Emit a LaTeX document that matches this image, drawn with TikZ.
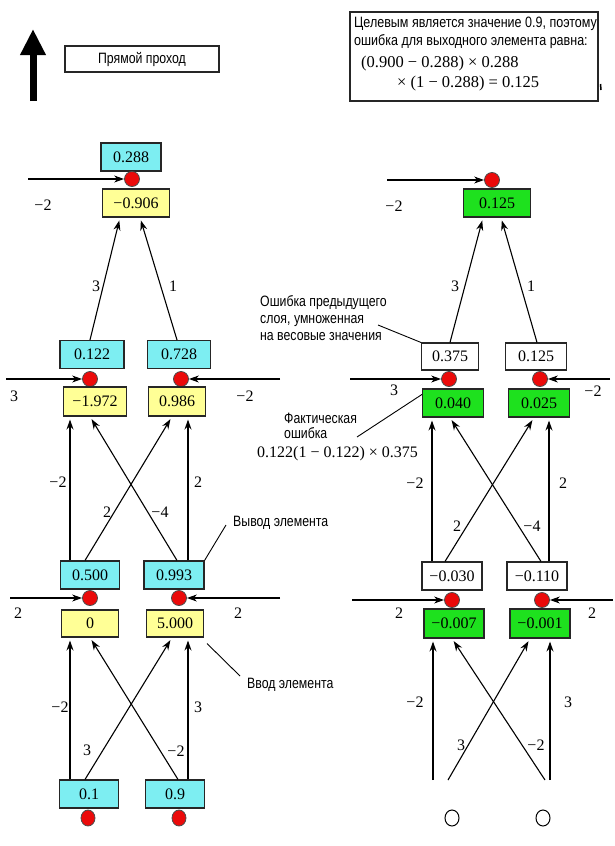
\documentclass[tikz,border=0pt]{standalone}
\usepackage{fontspec}
\setmainfont{Liberation Serif}
\newfontfamily\rusans[FakeStretch=0.82]{Liberation Sans}
\newfontfamily\rusansw[FakeStretch=0.835]{Liberation Sans}
\usetikzlibrary{arrows.meta,calc,shapes.geometric}
\definecolor{cy}{RGB}{125,238,242}
\definecolor{ye}{RGB}{255,255,150}
\definecolor{gr}{RGB}{30,225,30}
\definecolor{rd}{RGB}{235,10,10}
\tikzset{
 box/.style={draw=black!85, line width=1.1pt, minimum height=28pt, inner sep=0pt, font=\fontsize{16}{18}\selectfont},
 cbox/.style={box, fill=cy},
 ybox/.style={box, fill=ye},
 gbox/.style={box, fill=gr},
 wbox/.style={box, fill=white},
 dot/.style={circle, draw=black!70, fill=rd, line width=0.8pt, minimum size=15pt, inner sep=0pt},
 idot/.style={ellipse, draw=black!70, fill=rd, line width=0.8pt, minimum width=14pt, minimum height=16pt, inner sep=0pt},
 odot/.style={ellipse, draw=black, line width=1pt, minimum width=14pt, minimum height=16pt, inner sep=0pt},
 edgearr/.style={line width=1.1pt, -{Stealth[length=10pt,width=7pt]}, shorten >=3pt},
 harr/.style={line width=1.1pt, -{Stealth[length=10pt,width=7pt]}},
 lead/.style={line width=0.9pt},
 wt/.style={font=\fontsize{16}{18}\selectfont, inner sep=0pt},
 ru/.style={font=\rusans\fontsize{15}{17}\selectfont, inner sep=0pt, anchor=west},
 ruw/.style={font=\rusansw\fontsize{15}{17}\selectfont, inner sep=0pt, anchor=west},
 frm/.style={font=\fontsize{16.5}{18}\selectfont, inner sep=0pt, anchor=west},
 frms/.style={font=\fontsize{16}{18}\selectfont, inner sep=0pt, anchor=west}
}
\begin{document}
\begin{tikzpicture}[x=1pt,y=-1pt]
\useasboundingbox (0,0) rectangle (615,846);

% ---- top: arrow, title box, info box
\coordinate (upb) at (33,101);
\coordinate (upt) at (33,29);
\draw[line width=7pt,-{Triangle[length=26pt,width=24pt]}] (upb) -- (upt);
\node[draw=black!85, line width=1.1pt, minimum width=154pt, minimum height=26pt, inner sep=0pt,
      font=\rusans\fontsize{15}{17}\selectfont] (title) at (142,59) {Прямой проход};
\node[draw=black!85, line width=1.1pt, minimum width=248pt, minimum height=89pt, inner sep=0pt] (info) at (474,56.5) {};
\node[ruw] (inf1) at (354,24) {Целевым является значение 0.9, поэтому};
\node[ruw] (inf2) at (354,42) {ошибка для выходного элемента равна:};
\node[frm] (inf3) at (361,64) {(0.900 − 0.288) × 0.288};
\node[frm] (inf4) at (397,84) {× (1 − 0.288) = 0.125};
\coordinate (tk1) at (600.5,84);
\coordinate (tk2) at (601,90);
\draw[line width=1.5pt] (tk1) -- (tk2);

% ================= LEFT NETWORK =================
\node[cbox, minimum width=60pt] (Lout) at (131,157) {0.288};
\node[dot] (Lc) at (132,179) {};
\coordinate (Lca) at (28,179);
\draw[harr] (Lca) -- (Lc);
\node[ybox, minimum width=67pt] (Lo) at (136,203) {−0.906};
\node[wt] (Lw0) at (43,205) {−2};

% hidden layer
\node[cbox, minimum width=64pt] (Lh1o) at (92,354.5) {0.122};
\node[cbox, minimum width=63pt] (Lh2o) at (179,354.5) {0.728};
\node[dot] (Lh1c) at (90,379) {};
\node[dot] (Lh2c) at (181,379) {};
\coordinate (Lh1a) at (6,379);
\coordinate (Lh2a) at (280,379);
\draw[harr] (Lh1a) -- (Lh1c);
\draw[harr] (Lh2a) -- (Lh2c);
\node[ybox, minimum width=63pt, minimum height=29pt] (Lh1) at (95,401.5) {−1.972};
\node[ybox, minimum width=57pt, minimum height=29pt] (Lh2) at (177,401.5) {0.986};
\node[wt] (Lhw1) at (14,396) {3};
\node[wt] (Lhw2) at (245,396) {−2};

\draw[edgearr] (90,0 |- Lh1o.north) -- (120,0 |- Lo.south);
\draw[edgearr] (177,0 |- Lh2o.north) -- (140,0 |- Lo.south);
\node[wt] (Low1) at (96,286) {3};
\node[wt] (Low2) at (173,286) {1};

% input-side layer
\node[cbox, minimum width=59pt] (Li1o) at (90,575) {0.500};
\node[cbox, minimum width=60pt] (Li2o) at (174,575) {0.993};
\node[dot] (Li1c) at (90,598) {};
\node[dot] (Li2c) at (179,598) {};
\coordinate (Li1a) at (10,598);
\coordinate (Li2a) at (280,598);
\draw[harr] (Li1a) -- (Li1c);
\draw[harr] (Li2a) -- (Li2c);
\node[ybox, minimum width=57pt, minimum height=27pt] (Li1) at (90,623.5) {0};
\node[ybox, minimum width=57pt, minimum height=27pt] (Li2) at (175,623.5) {5.000};
\node[wt] (Liw1) at (18,613) {2};
\node[wt] (Liw2) at (238,613) {2};

\draw[edgearr] (70,0 |- Li1o.north) -- (70,0 |- Lh1.south);
\draw[edgearr] (85,0 |- Li1o.north) -- (172,0 |- Lh2.south);
\draw[edgearr] (177,0 |- Li2o.north) -- (90,0 |- Lh1.south);
\draw[edgearr] (188,0 |- Li2o.north) -- (188,0 |- Lh2.south);
\node[wt] (Lm1) at (58,482) {−2};
\node[wt] (Lm2) at (107,512) {2};
\node[wt] (Lm3) at (160,512) {−4};
\node[wt] (Lm4) at (198,482) {2};

% inputs
\node[cbox, minimum width=59pt] (In1) at (89,794) {0.1};
\node[cbox, minimum width=59pt] (In2) at (175,794) {0.9};
\node[idot] (In1c) at (88,818) {};
\node[idot] (In2c) at (179,818) {};
\draw[edgearr] (70,0 |- In1.north) -- (70,0 |- Li1.south);
\draw[edgearr] (85,0 |- In1.north) -- (172,0 |- Li2.south);
\draw[edgearr] (178,0 |- In2.north) -- (90,0 |- Li1.south);
\draw[edgearr] (188,0 |- In2.north) -- (188,0 |- Li2.south);
\node[wt] (Lb1) at (60,707) {−2};
\node[wt] (Lb2) at (87,750) {3};
\node[wt] (Lb3) at (176,751) {−2};
\node[wt] (Lb4) at (198,707) {3};

% annotations
\node[ru] (vyv) at (233,523) {Вывод элемента};
\coordinate (vya) at (226,525);
\draw[lead] (vya) -- (Li2o.north east);
\node[ru] (vvod) at (247,685) {Ввод элемента};
\coordinate (vva) at (240,676);
\draw[lead] (vva) -- ([shift={(3pt,-6pt)}]Li2.south east);

% ================= RIGHT NETWORK =================
\node[dot] (Rc) at (492,180) {};
\coordinate (Rca) at (387,180);
\draw[harr] (Rca) -- (Rc);
\node[gbox, minimum width=67pt] (Ro) at (497,203) {0.125};
\node[wt] (Rw0) at (394,206) {−2};

\node[wbox, minimum width=57pt, minimum height=27pt] (Rh1o) at (450,356.5) {0.375};
\node[wbox, minimum width=61pt, minimum height=27pt] (Rh2o) at (536,356.5) {0.125};
\draw[edgearr] (450,0 |- Rh1o.north) -- (483,0 |- Ro.south);
\draw[edgearr] (537,0 |- Rh2o.north) -- (501,0 |- Ro.south);
\node[wt] (Row1) at (455,286) {3};
\node[wt] (Row2) at (531,286) {1};

\node[dot] (Rh1c) at (449,379) {};
\node[dot] (Rh2c) at (540,379) {};
\coordinate (Rh1a) at (350,379);
\coordinate (Rh2a) at (610,379);
\draw[harr] (Rh1a) -- (Rh1c);
\draw[harr] (Rh2a) -- (Rh2c);
\node[wt] (Rhw1) at (394,390) {3};
\node[wt] (Rhw2) at (593,391) {−2};
\node[gbox, minimum width=61pt] (Rh1) at (453,403) {0.040};
\node[gbox, minimum width=61pt] (Rh2) at (539,403) {0.025};

\node[ru] (err1) at (260,303) {Ошибка предыдущего};
\node[ru] (err2) at (260,321) {слоя, умноженная};
\node[ru] (err3) at (260,337) {на весовые значения};
\coordinate (erra) at (378,325);
\draw[lead] (erra) -- (Rh1o.north west);

\node[ru] (fact1) at (284,418) {Фактическая};
\node[ru] (fact2) at (284,433) {ошибка};
\node[frms] (fact3) at (257,454) {0.122(1 − 0.122) × 0.375};
\coordinate (facta) at (357,437);
\draw[lead] (facta) -- ([yshift=-6pt]Rh1.north west);

\node[wbox, minimum width=60pt] (Ri1o) at (452,576) {−0.030};
\node[wbox, minimum width=60pt] (Ri2o) at (537,576) {−0.110};
\draw[edgearr] (432,0 |- Ri1o.north) -- (432,0 |- Rh1.south);
\draw[edgearr] (445,0 |- Ri1o.north) -- (534,0 |- Rh2.south);
\draw[edgearr] (541,0 |- Ri2o.north) -- (450,0 |- Rh1.south);
\draw[edgearr] (549,0 |- Ri2o.north) -- (549,0 |- Rh2.south);
\node[wt] (Rm1) at (415,483) {−2};
\node[wt] (Rm2) at (457,526) {2};
\node[wt] (Rm3) at (532,526) {−4};
\node[wt] (Rm4) at (563,483) {2};

\node[dot] (Ri1c) at (452,600) {};
\node[dot] (Ri2c) at (542,600) {};
\coordinate (Ri1a) at (352,600);
\coordinate (Ri2a) at (613,600);
\draw[harr] (Ri1a) -- (Ri1c);
\draw[harr] (Ri2a) -- (Ri2c);
\node[wt] (Riw1) at (399,613) {2};
\node[wt] (Riw2) at (592,613) {2};
\node[gbox, minimum width=60pt, minimum height=29pt] (Ri1) at (454,623.5) {−0.007};
\node[gbox, minimum width=60pt, minimum height=29pt] (Ri2) at (540,623.5) {−0.001};

\coordinate (rb1) at (433,780);
\coordinate (rb2) at (448,780);
\coordinate (rb3) at (545,780);
\coordinate (rb4) at (550,780);
\draw[edgearr] (rb1) -- (433,0 |- Ri1.south);
\draw[edgearr] (rb2) -- (530,0 |- Ri2.south);
\draw[edgearr] (rb3) -- (452,0 |- Ri1.south);
\draw[edgearr] (rb4) -- (550,0 |- Ri2.south);
\node[wt] (Rb1) at (415,702) {−2};
\node[wt] (Rb2) at (461,745) {3};
\node[wt] (Rb3) at (536,745) {−2};
\node[wt] (Rb4) at (568,702) {3};
\node[odot] (Rin1) at (452,818) {};
\node[odot] (Rin2) at (543,818) {};
\end{tikzpicture}
\end{document}
